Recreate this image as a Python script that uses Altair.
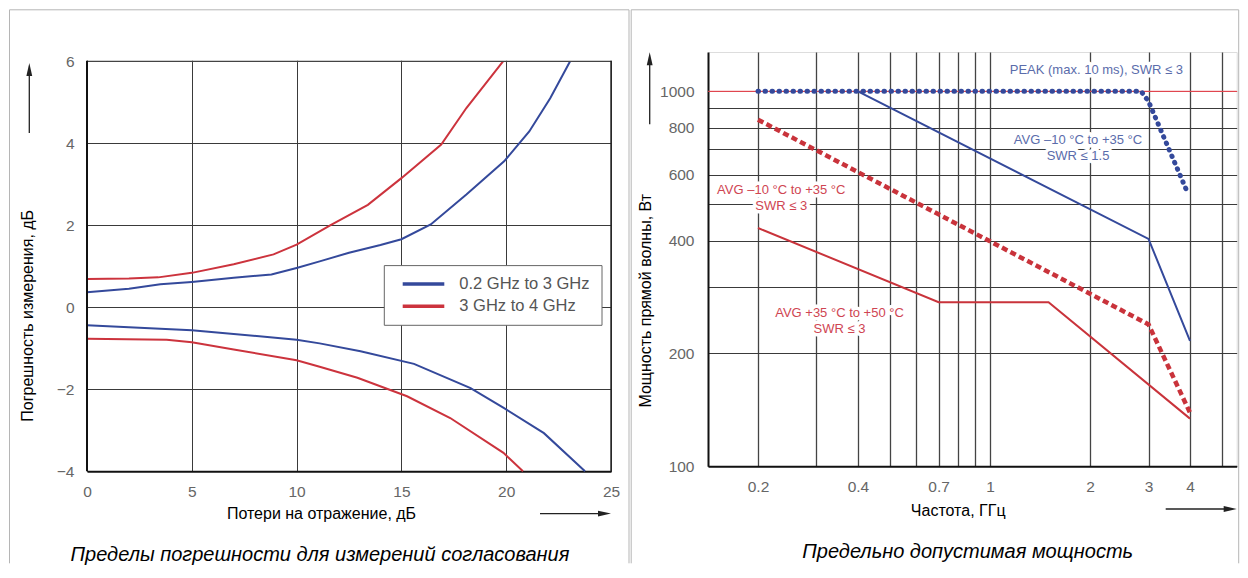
import altair as alt
import pandas as pd

FONT = "Liberation Sans"

# ---------------- left chart: measurement error vs return loss ----------------
bands = ["0.2 GHz to 3 GHz", "3 GHz to 4 GHz"]
band_colors = ["#34499b", "#cc333d"]

blue_up_x = [0, 2, 3.5, 5, 7, 8.8, 10, 11.1, 12.5, 14, 15, 16.4, 18.1, 19.9, 21.1, 22.1, 23.05]
blue_up_y = [0.37, 0.45, 0.56, 0.62, 0.72, 0.8, 0.96, 1.12, 1.33, 1.52, 1.66, 2.02, 2.75, 3.56, 4.29, 5.1, 6.0]
blue_lo_x = [0, 5, 7, 10, 11.1, 13.05, 15.6, 18.3, 19.9, 21.8, 23.76]
blue_lo_y = [-0.44, -0.56, -0.65, -0.79, -0.88, -1.07, -1.38, -1.97, -2.46, -3.07, -4.0]
red_up_x = [0, 2, 3.4, 5, 7, 8.9, 10, 11.6, 13.4, 15, 16.9, 18.1, 19.85]
red_up_y = [0.69, 0.7, 0.73, 0.84, 1.05, 1.29, 1.53, 2.0, 2.5, 3.15, 3.97, 4.86, 6.0]
red_lo_x = [0, 3.8, 5, 7, 10, 11.1, 12.9, 15.27, 17.33, 19.87, 20.8]
red_lo_y = [-0.77, -0.79, -0.85, -1.03, -1.29, -1.45, -1.72, -2.17, -2.7, -3.55, -4.0]

left_x_ticks = [0, 5, 10, 15, 20, 25]
left_y_ticks = [-4, -2, 0, 2, 4, 6]

# ---------------- right chart: max permissible power vs frequency ----------------
peak_f = [0.2, 2.85, 3.0, 3.95]
peak_p = [1000, 1000, 940, 532]
avg15_f = [0.4, 3.0, 4.0]
avg15_p = [1000, 404, 216]
avg3_f = [0.2, 3.0, 4.0]
avg3_p = [840, 239, 139]
hot_f = [0.2, 0.7, 1.5, 4.0]
hot_p = [432, 274, 274, 134]
peak_level = [1000]

f_grid = [0.2, 0.3, 0.4, 0.5, 0.6, 0.7, 0.8, 0.9, 1, 2, 3, 4, 5]
f_labels = [0.2, 0.4, 0.7, 1, 2, 3, 4]
p_grid = [100, 200, 300, 400, 500, 600, 700, 800, 900, 1000]
p_labels = [100, 200, 400, 600, 800, 1000]

ann_text = ["PEAK (max. 10 ms), SWR ≤ 3",
            "AVG –10 °C to +35 °C\nSWR ≤ 1.5",
            "AVG –10 °C to +35 °C\nSWR ≤ 3",
            "AVG +35 °C to +50 °C\nSWR ≤ 3"]
ann_f = [2.09, 1.84, 0.235, 0.352]
ann_p = [1142, 743, 547, 256]
ann_kind = ["blue", "blue", "red", "red"]

BLUE = "#34499b"
RED = "#c9333b"
RED_THIN = "#e0474f"
BLUE_TXT = "#5a6cab"
RED_TXT = "#cf4552"
FRAME = "#b5b5b5"
GRID = "#3a3a3a"
LBL = "#666666"

one = pd.DataFrame({"k": [0]})


def hrule(x1, x2, y, color, w):
    return alt.Chart(one).mark_rule(color=color, strokeWidth=w).encode(
        x=alt.value(x1), x2=alt.value(x2), y=alt.value(y))


def vrule(x, y1, y2, color, w):
    return alt.Chart(one).mark_rule(color=color, strokeWidth=w).encode(
        x=alt.value(x), y=alt.value(y1), y2=alt.value(y2))


def label(x, y, text, size, color="black", angle=0, italic=False, align="center"):
    return alt.Chart(one).mark_text(
        text=text, fontSize=size, color=color, angle=angle, font=FONT,
        fontStyle="italic" if italic else "normal", align=align, baseline="middle"
    ).encode(x=alt.value(x), y=alt.value(y))


def arrow_up(x, y_tail, y_tip, color="#222"):
    line = alt.Chart(one).mark_rule(color=color, strokeWidth=1.3).encode(
        x=alt.value(x), y=alt.value(y_tail), y2=alt.value(y_tip + 8))
    head = alt.Chart(one).mark_point(shape="M0,-1L0.45,1L-0.45,1Z", size=169, filled=True,
                                     color=color, opacity=1).encode(
        x=alt.value(x), y=alt.value(y_tip + 6.5))
    return [line, head]


def arrow_right(x_tail, x_tip, y, color="#222"):
    line = alt.Chart(one).mark_rule(color=color, strokeWidth=1.3).encode(
        x=alt.value(x_tail), x2=alt.value(x_tip - 8), y=alt.value(y))
    head = alt.Chart(one).mark_point(shape="M1,0L-1,-0.45L-1,0.45Z", size=169, filled=True,
                                     color=color, opacity=1).encode(
        x=alt.value(x_tip - 6.5), y=alt.value(y))
    return [line, head]


# ---------------- build left panel ----------------
rows = []
for xs, ys, band, branch in [(blue_up_x, blue_up_y, bands[0], "up"),
                             (blue_lo_x, blue_lo_y, bands[0], "lo"),
                             (red_up_x, red_up_y, bands[1], "up"),
                             (red_lo_x, red_lo_y, bands[1], "lo")]:
    for xv, yv in zip(xs, ys):
        rows.append({"x": xv, "y": yv, "band": band, "branch": band + branch})
df_left = pd.DataFrame(rows)

# the left plot area shares its top with the right one; the strip above 6 is blanked
TOP = 9.3                      # px between shared top and the "6" line
LW, LH = 524, 410 + TOP
y_top = 6 + TOP / 41.0

left_lines = alt.Chart(df_left).mark_line(strokeWidth=2).encode(
    x=alt.X("x:Q", scale=alt.Scale(domain=[0, 25], nice=False),
            axis=alt.Axis(values=left_x_ticks, grid=True, gridColor=GRID, gridWidth=1,
                          domainColor="#111", domainWidth=2, ticks=False, labelPadding=13,
                          labelFontSize=15.5, labelColor=LBL, labelFont=FONT, title=None,
                          labelFlush=False, labelOverlap=False)),
    y=alt.Y("y:Q", scale=alt.Scale(domain=[-4, y_top], nice=False),
            axis=alt.Axis(values=left_y_ticks, grid=True, gridColor=GRID, gridWidth=1,
                          domain=False, ticks=False, labelPadding=13,
                          labelFontSize=15.5, labelColor=LBL, labelFont=FONT, title=None,
                          labelOverlap=False)),
    color=alt.Color("band:N", scale=alt.Scale(domain=bands, range=band_colors), legend=None),
    detail="branch:N",
)

left_layers = [
    hrule(-77.5, 542, -42.2, FRAME, 1),
    vrule(-77.5, -42.2, 511.3, FRAME, 1),
    vrule(542, -42.2, 511.3, FRAME, 1),
    left_lines,
    # blank strip above the plot border
    alt.Chart(one).mark_rect(fill="white").encode(
        x=alt.value(-1), x2=alt.value(LW + 2), y=alt.value(-2), y2=alt.value(TOP - 0.6)),
    hrule(0, LW, TOP, "#444", 1.2),
    vrule(0, TOP - 0.6, LH, "#111", 2),
    vrule(LW, TOP - 0.6, LH, "#222", 1.4),
    # legend
    alt.Chart(one).mark_rect(fill="white", stroke="#666", strokeWidth=1).encode(
        x=alt.value(297.3), x2=alt.value(515), y=alt.value(204.3 + TOP), y2=alt.value(264 + TOP)),
    hrule(315.7, 357.3, 222.7 + TOP, band_colors[0], 3.5),
    hrule(315.7, 357.3, 245 + TOP, band_colors[1], 3.5),
    label(372.3, 222.7 + TOP, bands[0], 16.5, color="#555", align="left"),
    label(372.3, 245 + TOP, bands[1], 16.5, color="#555", align="left"),
    # titles
    label(-59, 254.5 + TOP, "Погрешность измерения, дБ", 16, angle=270),
    label(234.5, 453 + TOP, "Потери на отражение, дБ", 16),
    label(233, 494 + TOP, "Пределы погрешности для измерений согласования", 20, italic=True),
] + arrow_up(-57.7, 71.7 + TOP, 1.7 + TOP) + arrow_right(453, 524, 452.3 + TOP)

left = alt.layer(*left_layers).properties(
    width=LW, height=LH, view=alt.ViewBackground(stroke="transparent"))

# ---------------- build right panel ----------------
RW, RH = 528.7, 414.3
xs_r = alt.Scale(type="log", domain=[0.1414, 5.53], nice=False)
ys_r = alt.Scale(type="log", domain=[100, 1273], nice=False)

f_expr = "indexof([" + ",".join(str(v) for v in f_labels) + "], datum.value) >= 0 ? format(datum.value, '~g') : ''"
p_expr = "indexof([" + ",".join(str(v) for v in p_labels) + "], datum.value) >= 0 ? format(datum.value, 'd') : ''"

x_axis_r = alt.Axis(values=f_grid, grid=True, gridColor="#444", gridWidth=1.3, domainColor="#111",
                    domainWidth=2, ticks=False, labelPadding=13, labelFontSize=15.5,
                    labelColor=LBL, labelFont=FONT, title=None, labelFlush=False,
                    labelOverlap=False, labelExpr=f_expr)
y_axis_r = alt.Axis(values=p_grid, grid=True,
                    gridColor={"condition": {"test": "datum.value === %d" % peak_level[0],
                                             "value": RED_THIN}, "value": GRID},
                    gridWidth=1, domainColor="#111",
                    domainWidth=2, ticks=False, labelPadding=14, labelFontSize=15.5,
                    labelColor=LBL, labelFont=FONT, title=None, labelOverlap=False,
                    labelExpr=p_expr)


def X():
    return alt.X("f:Q", scale=xs_r, axis=x_axis_r)


def Y():
    return alt.Y("p:Q", scale=ys_r, axis=y_axis_r)


df_ann = pd.DataFrame({"f": ann_f, "p": ann_p, "t": ann_text,
                       "c": [BLUE_TXT if k == "blue" else RED_TXT for k in ann_kind]})

halo = alt.Chart(df_ann).mark_text(fontSize=13, font=FONT, lineBreak="\n", lineHeight=16,
                                   stroke="white", strokeWidth=7, fill="white",
                                   strokeJoin="round").encode(x=X(), y=Y(), text="t:N")

ann = alt.Chart(df_ann).mark_text(fontSize=13, font=FONT, lineBreak="\n", lineHeight=16).encode(
    x=X(), y=Y(), text="t:N", color=alt.Color("c:N", scale=None))

peak_rule = alt.Chart(pd.DataFrame({"p": peak_level})).mark_rule(color=RED_THIN, strokeWidth=1).encode(
    y=Y())


def series(fs, ps, **mk):
    return alt.Chart(pd.DataFrame({"f": fs, "p": ps})).mark_line(**mk).encode(x=X(), y=Y())


right_layers = [
    hrule(-76.8, 530.7, -42.2, FRAME, 1),
    vrule(-76.8, -42.2, 511.3, FRAME, 1),
    vrule(530.7, -42.2, 511.3, FRAME, 1),
    halo,
    peak_rule,
    series(hot_f, hot_p, color=RED, strokeWidth=2),
    series(avg15_f, avg15_p, color=BLUE, strokeWidth=2),
    series(avg3_f, avg3_p, color=RED, strokeWidth=4.5, strokeDash=[6, 3.5]),
    series(peak_f, peak_p, color=BLUE, strokeWidth=5, strokeDash=[0.5, 6.5], strokeCap="round"),
    ann,
    label(-62.3, 248.8, "Мощность прямой волны, Вт", 16, angle=270),
    label(250.2, 459.3, "Частота, ГГц", 16),
    label(259.7, 500, "Предельно допустимая мощность", 20, italic=True),
] + arrow_up(-58.3, 72.3, 0.3) + arrow_right(457.7, 528.7, 457)

right = alt.layer(*right_layers).properties(width=RW, height=RH)

chart = alt.hconcat(left, right, spacing=0).properties(
    padding=0, background="white"
).configure_view(stroke="#333", strokeWidth=1.2).configure(font=FONT)

chart.save("out.html", embed_options={"renderer": "svg", "actions": False})
